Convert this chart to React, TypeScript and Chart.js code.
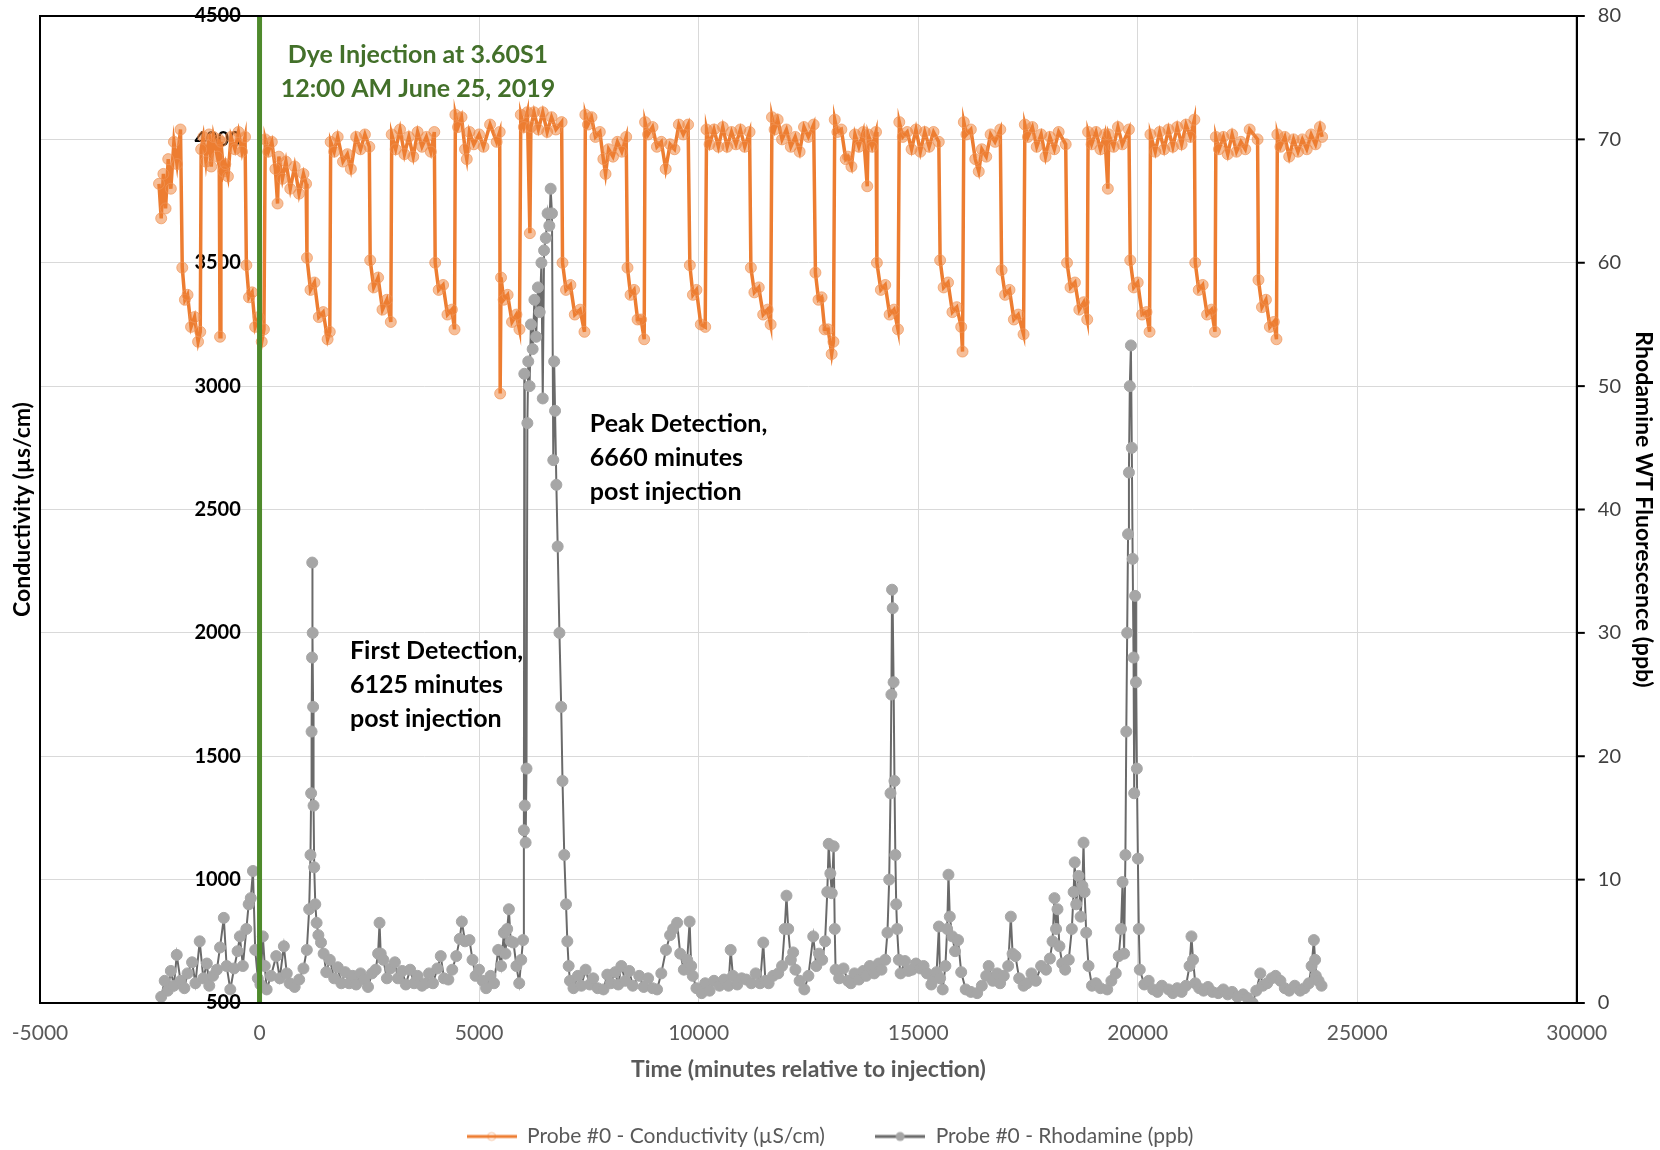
import React, { useEffect, useRef } from "react";
import { Chart, registerables } from "chart.js";

Chart.register(...registerables);

// ---- Conductivity (µS/cm), time in minutes relative to injection ----
const condTime = [
  -2290, -2240, -2190, -2140, -2080, -2020, -1950, -1880, -1800,
  -1760, -1700, -1640, -1560, -1480, -1400, -1350,
  -1330, -1280, -1220, -1150, -1100, -1050, -960, -920, -900, -880, -820, -780, -720, -650, -560, -480, -400, -330,
  -300, -240, -170, -100, -20, 50, 100,
  130, 200, 280, 360, 410, 440, 520, 600, 700, 800, 900, 1000, 1060,
  1080, 1160, 1250, 1350, 1450, 1550, 1600,
  1620, 1700, 1780, 1900, 2000, 2080, 2200, 2300, 2400, 2500,
  2520, 2600, 2700, 2800, 2900, 2990,
  3010, 3100, 3200, 3300, 3400, 3500, 3600, 3700, 3800, 3900, 3980,
  4000, 4080, 4180, 4280, 4380, 4440,
  4460, 4520, 4600, 4680, 4720, 4780, 4880, 5000, 5100, 5250, 5400, 5470,
  5480, 5500, 5560, 5650, 5750, 5850, 5920,
  5950, 6020, 6100, 6157, 6180, 6250, 6350, 6450, 6550, 6650, 6750, 6880,
  6900, 6980, 7080, 7180, 7300, 7400,
  7420, 7480, 7560, 7650, 7750, 7830, 7880, 7950, 8050, 8150, 8250, 8350,
  8380, 8450, 8530, 8610, 8690, 8760,
  8780, 8850, 8950, 9050, 9150, 9250, 9350, 9450, 9550, 9650, 9760,
  9800, 9870, 9950, 10050, 10150,
  10180, 10250, 10350, 10450, 10550, 10650, 10750, 10850, 10950, 11050, 11160,
  11190, 11270, 11370, 11470, 11570, 11640,
  11670, 11730, 11800, 11900, 12000, 12100, 12200, 12300, 12400, 12500, 12620,
  12660, 12730, 12800, 12870, 12950, 13030, 13070,
  13100, 13160, 13250, 13350, 13400, 13480, 13560, 13650, 13750, 13840, 13860, 13950, 14040,
  14060, 14150, 14250, 14350, 14450, 14540,
  14570, 14650, 14750, 14850, 14950, 15050, 15150, 15250, 15350, 15470,
  15500, 15580, 15680, 15780, 15880, 15980, 16010,
  16040, 16100, 16200, 16300, 16380, 16450, 16550, 16650, 16750, 16870,
  16900, 16980, 17080, 17180, 17280, 17400,
  17430, 17500, 17600, 17700, 17800, 17900, 18000, 18100, 18200, 18360,
  18390, 18470, 18570, 18670, 18770, 18850,
  18870, 18950, 19050, 19150, 19250, 19320, 19340, 19450, 19550, 19650, 19800,
  19830, 19910, 20000, 20100, 20200, 20270,
  20290, 20400, 20500, 20600, 20700, 20800, 20900, 21000, 21100, 21200, 21290,
  21310, 21390, 21480, 21580, 21680, 21760,
  21780, 21850, 21950, 22050, 22150, 22250, 22350, 22450, 22550, 22730,
  22750, 22830, 22920, 23010, 23100, 23160,
  23180, 23250, 23350, 23450, 23550, 23650, 23750, 23850, 23950, 24050, 24150, 24200,
];
const condValue = [
  3820, 3680, 3860, 3720, 3920, 3800, 3990, 3900, 4040,
  3480, 3350, 3370, 3240, 3280, 3180, 3220,
  3960, 4010, 3910, 4020, 3890, 4010, 3930, 4000, 3200, 3990, 3870, 3900, 3850, 4010, 3960, 4030, 3950, 4010,
  3490, 3360, 3380, 3240, 3280, 3180, 3230,
  4000, 3950, 3990, 3880, 3740, 3930, 3840, 3910, 3800, 3890, 3780, 3860, 3820,
  3520, 3390, 3420, 3280, 3300, 3190, 3220,
  3990, 3950, 4010, 3910, 3940, 3880, 4010, 3960, 4020, 3970,
  3510, 3400, 3440, 3310, 3350, 3260,
  4020, 3960, 4040, 3940, 4010, 3930, 4030, 3970, 4010, 3950, 4030,
  3500, 3390, 3410, 3290, 3310, 3230,
  4100, 4050, 4090, 3960, 3920, 4030, 3980, 4020, 3970, 4060, 3990, 4030,
  2970, 3440, 3350, 3370, 3260, 3290, 3230,
  4100, 4050, 4110, 3620, 4050, 4110, 4040, 4110, 4030, 4090, 4040, 4070,
  3500, 3390, 3410, 3290, 3310, 3220,
  4100, 4060, 4090, 4010, 4030, 3920, 3860, 3960, 3930, 3990, 3950, 4010,
  3480, 3370, 3390, 3270, 3270, 3190,
  4070, 4020, 4050, 3970, 3990, 3880, 3980, 3960, 4060, 4020, 4060,
  3490, 3370, 3390, 3250, 3240,
  4040, 3980, 4040, 3970, 4050, 3970, 4030, 3980, 4040, 3970, 4030,
  3480, 3380, 3400, 3290, 3310, 3250,
  4090, 4040, 4080, 4000, 4040, 3970, 4010, 3950, 4050, 4010, 4060,
  3460, 3350, 3360, 3230, 3230, 3130, 3180,
  4080, 4030, 4040, 3920, 3930, 3890, 4020, 3970, 4030, 3810, 4020, 3970, 4030,
  3500, 3390, 3410, 3290, 3310, 3230,
  4070, 4010, 4030, 3960, 4040, 3950, 4030, 3970, 4030, 3990,
  3510, 3400, 3420, 3300, 3320, 3240, 3140,
  4070, 4020, 4040, 3920, 3870, 3960, 3930, 4020, 3990, 4040,
  3470, 3370, 3390, 3270, 3290, 3210,
  4060, 4010, 4050, 3970, 4020, 3930, 4010, 3960, 4030, 3980,
  3500, 3400, 3420, 3310, 3340, 3270,
  4030, 3980, 4030, 3960, 4020, 3800, 4020, 3970, 4050, 3980, 4040,
  3510, 3400, 3420, 3290, 3300, 3220,
  4020, 3950, 4030, 3960, 4040, 3970, 4050, 3980, 4060, 4010, 4080,
  3500, 3390, 3410, 3290, 3310, 3220,
  4010, 3960, 4010, 3940, 4020, 3950, 3990, 3960, 4040, 4000,
  3430, 3320, 3350, 3240, 3260, 3190,
  4020, 3970, 4010, 3930, 4000, 3950, 4000, 3960, 4020, 3980, 4050, 4010,
];

// ---- Rhodamine (ppb) ----
const rhoTime = [
  -2240, -2160, -2090, -2020, -1950, -1886, -1800, -1712, -1640, -1537,
  -1460, -1363, -1280, -1200, -1145, -1060, -971, -900, -814, -750,
  -666, -580, -500, -448, -380, -300, -248, -200, -150, -99,
  -40, 20, 75, 120, 162, 260, 380, 460, 554, 620,
  685, 800, 903, 1000, 1077, 1130, 1160, 1175, 1185, 1195,
  1200, 1210, 1220, 1230, 1245, 1270, 1300, 1340, 1400, 1460,
  1520, 1600, 1700, 1780, 1862, 1950, 2040, 2123, 2200, 2300,
  2385, 2470, 2560, 2645, 2700, 2733, 2760, 2820, 2900, 2980,
  3082, 3150, 3250, 3330, 3430, 3520, 3600, 3700, 3779, 3860,
  3950, 4050, 4127, 4200, 4300, 4389, 4480, 4560, 4607, 4680,
  4781, 4850, 4920, 4999, 5080, 5160, 5260, 5340, 5435, 5500,
  5565, 5600, 5640, 5679, 5720, 5783, 5850, 5914, 5960, 6001,
  6020, 6030, 6040, 6060, 6080, 6100, 6120, 6150, 6180, 6220,
  6260, 6300, 6340, 6380, 6420, 6450, 6480, 6520, 6560, 6600,
  6630, 6660, 6690, 6710, 6730, 6760, 6790, 6830, 6870, 6900,
  6940, 6980, 7010, 7040, 7070, 7150, 7250, 7330, 7426, 7520,
  7600, 7700, 7833, 7920, 8000, 8100, 8170, 8240, 8330, 8420,
  8500, 8646, 8750, 8850, 8950, 9053, 9150, 9256, 9350, 9420,
  9510, 9580, 9663, 9740, 9795, 9830, 9866, 9950, 10070, 10150,
  10250, 10350, 10476, 10580, 10680, 10730, 10781, 10880, 10980, 11086,
  11200, 11300, 11400, 11472, 11520, 11594, 11696, 11812, 11900, 11960,
  12001, 12040, 12100, 12153, 12204, 12300, 12407, 12500, 12610, 12680,
  12740, 12814, 12880, 12930, 12962, 13000, 13032, 13075, 13100, 13119,
  13200, 13300, 13400, 13467, 13550, 13650, 13750, 13816, 13900, 14000,
  14100, 14164, 14250, 14300, 14340, 14370, 14390, 14405, 14420, 14440,
  14460, 14480, 14500, 14520, 14560, 14600, 14700, 14780, 14862, 14950,
  15050, 15123, 15200, 15300, 15341, 15420, 15472, 15500, 15559, 15620,
  15660, 15690, 15720, 15777, 15840, 15908, 15980, 16082, 16200, 16343,
  16450, 16550, 16605, 16700, 16800, 16866, 16950, 17050, 17110, 17150,
  17215, 17300, 17400, 17476, 17580, 17680, 17800, 17912, 18000, 18060,
  18104, 18140, 18173, 18217, 18280, 18348, 18430, 18500, 18540, 18565,
  18600, 18653, 18700, 18740, 18766, 18790, 18827, 18880, 18958, 19050,
  19150, 19306, 19400, 19500, 19568, 19620, 19655, 19690, 19720, 19740,
  19760, 19780, 19800, 19820, 19845, 19865, 19885, 19905, 19920, 19940,
  19960, 19980, 20004, 20025, 20047, 20150, 20250, 20352, 20450, 20550,
  20701, 20800, 20900, 21000, 21100, 21180, 21224, 21260, 21311, 21400,
  21500, 21600, 21700, 21834, 21950, 22050, 22150, 22270, 22400, 22500,
  22618, 22700, 22792, 22850, 22950, 23050, 23140, 23250, 23350, 23450,
  23576, 23700, 23800, 23900, 23960, 24012, 24040, 24056, 24120, 24187,
];
const rhoValue = [
  0.5, 1.8, 1.0, 2.6, 1.4, 3.9, 1.8, 1.2, 2.4, 3.3,
  1.6, 5.0, 2.0, 3.2, 1.4, 2.2, 2.7, 4.5, 6.9, 3.0,
  1.1, 2.8, 4.2, 5.4, 3.0, 6.0, 8.0, 8.5, 10.7, 4.3,
  2.0, 1.5, 5.4, 3.0, 1.1, 2.2, 3.8, 2.0, 4.6, 2.4,
  1.6, 1.3, 1.9, 2.8, 4.3, 7.6, 12, 17, 22, 28,
  35.7, 30, 24, 16, 11, 8, 6.5, 5.5, 4.9, 4.0,
  2.5, 3.5, 2.0, 2.9, 1.6, 2.5, 1.6, 2.2, 1.5, 2.4,
  1.9, 1.3, 2.4, 2.7, 4.0, 6.5, 4.0, 3.5, 2.0, 2.8,
  3.3, 2.0, 2.6, 1.5, 2.7, 1.6, 2.2, 1.4, 1.6, 2.4,
  1.6, 2.8, 3.8, 2.0, 1.9, 2.7, 3.8, 5.2, 6.6, 5.0,
  5.1, 3.5, 2.2, 2.7, 1.8, 1.2, 2.2, 1.6, 4.3, 3.0,
  5.7, 4.0, 6.0, 7.6, 5.0, 4.9, 3.0, 1.6, 3.5, 5.1,
  14, 51, 16, 13, 19, 47, 52, 50, 55, 53,
  57, 54, 58, 56, 60, 49, 61, 62, 64, 63,
  66, 64, 44, 52, 48, 42, 37, 30, 24, 18,
  12, 8, 5, 3, 1.8, 1.2, 2.2, 1.4, 2.7, 1.5,
  2.0, 1.2, 1.1, 2.3, 1.6, 2.5, 1.5, 3.0, 1.8, 2.6,
  1.4, 2.2, 1.3, 2.0, 1.2, 1.1, 2.4, 4.3, 5.5, 6.0,
  6.5, 4.0, 2.7, 3.5, 6.6, 3.0, 2.2, 1.2, 0.8, 1.6,
  1.0, 1.8, 1.4, 1.9, 1.4, 4.3, 2.2, 1.5, 2.0, 1.9,
  1.6, 2.4, 1.6, 4.9, 1.8, 1.6, 2.2, 2.4, 3.0, 6.0,
  8.7, 6.0, 3.5, 4.1, 2.7, 1.8, 1.1, 2.2, 5.4, 3.0,
  4.0, 3.5, 5.0, 9.0, 12.9, 10.5, 8.9, 12.7, 6.0, 2.7,
  2.0, 2.8, 1.8, 1.6, 2.4, 1.9, 2.6, 2.2, 3.0, 2.4,
  3.2, 2.7, 3.5, 5.7, 10, 17, 25, 33.5, 32, 26,
  18, 12, 8, 6, 3.5, 2.4, 3.4, 2.6, 2.7, 3.2,
  2.8, 3.0, 2.4, 1.5, 1.9, 2.5, 6.2, 2.0, 1.1, 3.0,
  6.0, 10.4, 7.0, 5.4, 4.2, 5.1, 2.5, 1.1, 0.9, 0.8,
  1.4, 2.2, 3.0, 1.8, 2.4, 1.6, 2.2, 3.0, 7.0, 4.0,
  3.8, 2.0, 1.4, 1.6, 2.4, 1.8, 3.0, 2.7, 3.6, 5.0,
  8.5, 6.0, 7.6, 4.6, 3.2, 2.7, 3.5, 6.0, 9.0, 11.4,
  8.0, 10.3, 7.0, 9.5, 13.0, 9.0, 5.7, 3.0, 1.4, 1.6,
  1.2, 1.1, 1.8, 2.4, 3.8, 6.0, 9.8, 4.0, 12, 22,
  30, 38, 43, 50, 53.3, 45, 36, 28, 17, 33,
  26, 19, 11.7, 6, 2.7, 1.5, 1.8, 1.1, 0.9, 1.4,
  1.1, 0.8, 1.2, 0.9, 1.4, 3.0, 5.4, 3.5, 1.6, 1.2,
  1.0, 1.3, 0.9, 0.8, 1.1, 0.7, 0.9, 0.5, 0.7, 0.4,
  0.0, 1.0, 2.4, 1.4, 1.6, 2.0, 2.2, 1.8, 1.2, 1.0,
  1.4, 1.0, 1.2, 1.6, 3.0, 5.1, 3.5, 2.2, 1.8, 1.4,
];

// ---- Axes ----
const X_MIN = -5000;
const X_MAX = 30000;
const X_STEP = 5000;
const COND_MIN = 500;
const COND_MAX = 4500;
const COND_STEP = 500;
const RHO_MIN = 0;
const RHO_MAX = 80;
const RHO_STEP = 10;

const INJECTION_TIME = 0;

// ---- Labels ----
const COND_LABEL = "Probe #0 - Conductivity (µS/cm)";
const RHO_LABEL = "Probe #0 - Rhodamine (ppb)";
const X_TITLE = "Time (minutes relative to injection)";
const Y_TITLE = "Conductivity (µs/cm)";
const Y1_TITLE = "Rhodamine WT Fluorescence (ppb)";

const injectionNote = ["Dye Injection at 3.60S1", "12:00 AM June 25, 2019"];
const firstNote = ["First Detection,", "6125 minutes", "post injection"];
const peakNote = ["Peak Detection,", "6660 minutes", "post injection"];

// note anchors in data coordinates (time, conductivity)
const injectionNoteAt = { t: 3607, v: 4341 };
const firstNoteAt = { t: 2059, v: 1927 };
const peakNoteAt = { t: 7523, v: 2846 };

const FONT = "Lato, 'Open Sans', 'DejaVu Sans', sans-serif";
const ORANGE = "#ED7D31";
const GRAY_DOT = "#a6a6a6";
const GRAY_LINE = "#6a6a6a";
const GREEN = "#4e8a2c";
const GREEN_TEXT = "#43702a";
const GRID = "#d9d9d9";
const AXIS_GRAY = "#595959";

function makeIcon(kind: "orange" | "gray"): HTMLCanvasElement {
  const c = document.createElement("canvas");
  c.width = 50;
  c.height = 14;
  const g = c.getContext("2d")!;
  g.strokeStyle = kind === "orange" ? ORANGE : GRAY_LINE;
  g.lineWidth = 3;
  g.beginPath();
  g.moveTo(0, 7);
  g.lineTo(50, 7);
  g.stroke();
  if (kind === "gray") {
    g.fillStyle = GRAY_DOT;
    g.beginPath();
    g.arc(25, 7, 4.5, 0, Math.PI * 2);
    g.fill();
  } else {
    g.strokeStyle = "rgba(237,125,49,0.45)";
    g.lineWidth = 1;
    g.beginPath();
    g.arc(25, 7, 4, 0, Math.PI * 2);
    g.stroke();
  }
  return c;
}

const overlayPlugin = {
  id: "overlay",
  afterDatasetsDraw(chart: any) {
    const { ctx, chartArea, scales } = chart;
    const xs = scales.x;
    const ys = scales.y;
    const y1 = scales.y1;
    ctx.save();
    // injection line
    const gx = xs.getPixelForValue(INJECTION_TIME);
    ctx.strokeStyle = GREEN;
    ctx.lineWidth = 5;
    ctx.beginPath();
    ctx.moveTo(gx, chartArea.top);
    ctx.lineTo(gx, chartArea.bottom);
    ctx.stroke();
    // plot frame
    ctx.strokeStyle = "#000";
    ctx.lineWidth = 2;
    ctx.strokeRect(chartArea.left, chartArea.top, chartArea.right - chartArea.left, chartArea.bottom - chartArea.top);
    // outside tick marks on the right axis
    y1.ticks.forEach((tk: any) => {
      const py = y1.getPixelForValue(tk.value);
      ctx.beginPath();
      ctx.moveTo(chartArea.right, py);
      ctx.lineTo(chartArea.right + 8, py);
      ctx.stroke();
    });

    const drawNote = (lines: string[], at: { t: number; v: number }, align: CanvasTextAlign, color: string) => {
      ctx.font = `bold 25px ${FONT}`;
      ctx.fillStyle = color;
      ctx.textAlign = align;
      ctx.textBaseline = "middle";
      const px = xs.getPixelForValue(at.t);
      const py = ys.getPixelForValue(at.v);
      lines.forEach((ln, i) => ctx.fillText(ln, px, py + i * 34));
    };
    drawNote(injectionNote, injectionNoteAt, "center", GREEN_TEXT);
    drawNote(firstNote, firstNoteAt, "left", "#000");
    drawNote(peakNote, peakNoteAt, "left", "#000");
    ctx.restore();
  },
};

export default function App() {
  const ref = useRef<HTMLCanvasElement | null>(null);

  useEffect(() => {
    if (!ref.current) return;
    Chart.defaults.font.family = FONT;
    const condData = condTime.map((t, i) => ({ x: t, y: condValue[i] }));
    const rhoData = rhoTime.map((t, i) => ({ x: t, y: rhoValue[i] }));
    const icons = [makeIcon("orange"), makeIcon("gray")];

    const chart = new Chart(ref.current, {
      type: "line",
      data: {
        datasets: [
          {
            label: COND_LABEL,
            data: condData,
            yAxisID: "y",
            borderColor: ORANGE,
            borderWidth: 3.5,
            pointRadius: 5.5,
            pointBackgroundColor: "rgba(237,125,49,0.5)",
            pointBorderColor: "rgba(240,150,90,0.7)",
            pointBorderWidth: 1,
            tension: 0,
            order: 2,
          },
          {
            label: RHO_LABEL,
            data: rhoData,
            yAxisID: "y1",
            borderColor: GRAY_LINE,
            borderWidth: 2,
            pointRadius: 5.5,
            pointBackgroundColor: GRAY_DOT,
            pointBorderColor: GRAY_DOT,
            pointBorderWidth: 1,
            tension: 0,
            order: 1,
          },
        ],
      },
      options: {
        responsive: false,
        animation: false,
        devicePixelRatio: 1,
        events: [],
        layout: { padding: { left: 0, right: 0, top: 16, bottom: -7 } },
        plugins: {
          tooltip: { enabled: false },
          legend: {
            position: "bottom",
            labels: {
              usePointStyle: true,
              pointStyleWidth: 50,
              boxHeight: 14,
              padding: 3,
              color: AXIS_GRAY,
              font: { size: 21, family: FONT },
              generateLabels: (ch: any) =>
                ch.data.datasets.map((ds: any, i: number) => ({
                  text: i === 0 ? ds.label + "\u2003\u2003\u2003" : ds.label,
                  fillStyle: "rgba(0,0,0,0)",
                  strokeStyle: "rgba(0,0,0,0)",
                  lineWidth: 0,
                  pointStyle: icons[i],
                  hidden: false,
                  datasetIndex: i,
                  fontColor: AXIS_GRAY,
                })),
            },
          },
        },
        scales: {
          x: {
            type: "linear",
            min: X_MIN,
            max: X_MAX,
            ticks: {
              stepSize: X_STEP,
              callback: (v: any) => String(v),
              color: AXIS_GRAY,
              font: { size: 21 },
              padding: 0,
              maxRotation: 0,
              autoSkip: false,
            },
            grid: { color: GRID, drawTicks: true, tickLength: 17.4, tickColor: "rgba(0,0,0,0)" },
            border: { display: false },
            title: {
              display: true,
              text: X_TITLE,
              color: AXIS_GRAY,
              font: { size: 23, weight: "bold" },
              padding: { top: 10.6, bottom: 39.2 },
            },
          },
          yTitle: {
            type: "linear",
            position: "left",
            min: 0,
            max: 1,
            ticks: { display: false, padding: 0 },
            grid: { display: false, drawTicks: false },
            border: { display: false },
            title: {
              display: true,
              text: Y_TITLE,
              color: "#000",
              font: { size: 23, weight: "bold" },
              padding: { top: 9.2, bottom: 3.2 },
            },
          },
          y: {
            type: "linear",
            position: { x: INJECTION_TIME } as any,
            min: COND_MIN,
            max: COND_MAX,
            ticks: {
              stepSize: COND_STEP,
              callback: (v: any) => String(v) + "\u2003\u2009\u200A",
              color: "#000",
              font: { size: 20, weight: "bold" },
              padding: 0,
            },
            grid: { color: GRID, drawTicks: false },
            border: { display: false },
          },
          y1: {
            type: "linear",
            position: "right",
            min: RHO_MIN,
            max: RHO_MAX,
            ticks: {
              stepSize: RHO_STEP,
              color: "#404040",
              font: { size: 20 },
              padding: 4,
            },
            grid: { drawOnChartArea: false, color: "rgba(0,0,0,0)", tickLength: 17 },
            border: { color: "#000", width: 2 },
            title: {
              display: true,
              text: Y1_TITLE,
              color: "#000",
              font: { size: 23, weight: "bold" },
              padding: { top: 3.2, bottom: 4.2 },
            },
          },
        },
      } as any,
      plugins: [overlayPlugin],
    });
    return () => chart.destroy();
  }, []);

  return (
    <div style={{ position: "absolute", left: 0, top: 0, width: 1660, height: 1150, background: "#fff" }}>
      <canvas ref={ref} width={1660} height={1150} style={{ width: 1660, height: 1150 }} />
    </div>
  );
}
